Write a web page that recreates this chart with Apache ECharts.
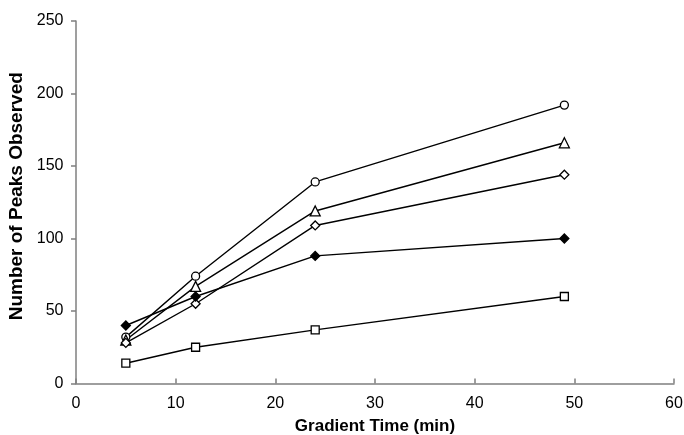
<!DOCTYPE html>
<html>
<head>
<meta charset="utf-8">
<script src="https://cdn.jsdelivr.net/npm/echarts@6/dist/echarts.min.js"></script>
<style>
  html, body { margin: 0; padding: 0; background: #fff; }
  #chart { width: 684px; height: 435px; }
</style>
</head>
<body>
<div id="chart"></div>
<script>
// Gradient times (min) at which peaks were counted
const gradientTimes = [5, 12, 24, 49];

// Peak counts for each sample set
const seriesCircle = [32, 74, 139, 192];
const seriesTriangle = [30, 67, 119, 166];
const seriesOpenDiamond = [28, 55, 109, 144];
const seriesFilledDiamond = [40, 60, 88, 100];
const seriesSquare = [14, 25, 37, 60];

const xTicks = [0, 10, 20, 30, 40, 50, 60];
const yTicks = [0, 50, 100, 150, 200, 250];

const axisGray = '#7f7f7f';
const fontFamily = '"Liberation Sans", Arial, sans-serif';

const diamondPath = 'path://M0,-1 L1,0 L0,1 L-1,0 Z';
const trianglePath = 'path://M0,-1 L1,0.8 L-1,0.8 Z';

function makeSeries(name, values, symbol, size, filled) {
  return {
    name: name,
    type: 'line',
    data: gradientTimes.map((t, i) => [t, values[i]]),
    symbol: symbol,
    symbolSize: size,
    showAllSymbol: true,
    lineStyle: { color: '#000', width: 1.4 },
    itemStyle: {
      color: filled ? '#000' : '#fff',
      borderColor: '#000',
      borderWidth: 1.3
    },
    emphasis: { disabled: true },
    z: 3
  };
}

const chart = echarts.init(document.getElementById('chart'), null, { renderer: 'canvas' });
chart.setOption({
  animation: false,
  backgroundColor: '#fff',
  grid: {
    left: 76, right: 10, top: 21, bottom: 51.5,
    containLabel: false,
    outerBoundsMode: 'none'
  },
  xAxis: {
    type: 'value',
    min: xTicks[0],
    max: xTicks[xTicks.length - 1],
    interval: 10,
    name: 'Gradient Time (min)',
    nameLocation: 'middle',
    nameGap: 34,
    nameTextStyle: { fontFamily: fontFamily, fontWeight: 'bold', fontSize: 17, color: '#000' },
    axisLine: { show: true, onZero: false, lineStyle: { color: axisGray, width: 1.5 } },
    axisTick: { show: true, inside: true, length: 5, lineStyle: { color: axisGray, width: 1.5 } },
    axisLabel: { fontFamily: fontFamily, fontSize: 16, color: '#000', margin: 12 },
    splitLine: { show: false }
  },
  yAxis: {
    type: 'value',
    min: yTicks[0],
    max: yTicks[yTicks.length - 1],
    interval: 50,
    name: 'Number of Peaks Observed',
    nameLocation: 'middle',
    nameGap: 48,
    nameTextStyle: {
      fontFamily: fontFamily, fontWeight: 'bold', fontSize: 19, color: '#000',
      padding: [0, 0, 0, 12]
    },
    axisLine: { show: true, lineStyle: { color: axisGray, width: 1.5 } },
    axisTick: { show: true, inside: false, length: 5, lineStyle: { color: axisGray, width: 1.5 } },
    axisLabel: { fontFamily: fontFamily, fontSize: 16, color: '#000', margin: 12.5 },
    splitLine: { show: false }
  },
  series: [
    makeSeries('circle', seriesCircle, 'circle', 8, false),
    makeSeries('triangle', seriesTriangle, trianglePath, 10, false),
    makeSeries('openDiamond', seriesOpenDiamond, diamondPath, 9, false),
    makeSeries('filledDiamond', seriesFilledDiamond, diamondPath, 9, true),
    makeSeries('square', seriesSquare, 'rect', 8, false)
  ]
});
</script>
</body>
</html>
